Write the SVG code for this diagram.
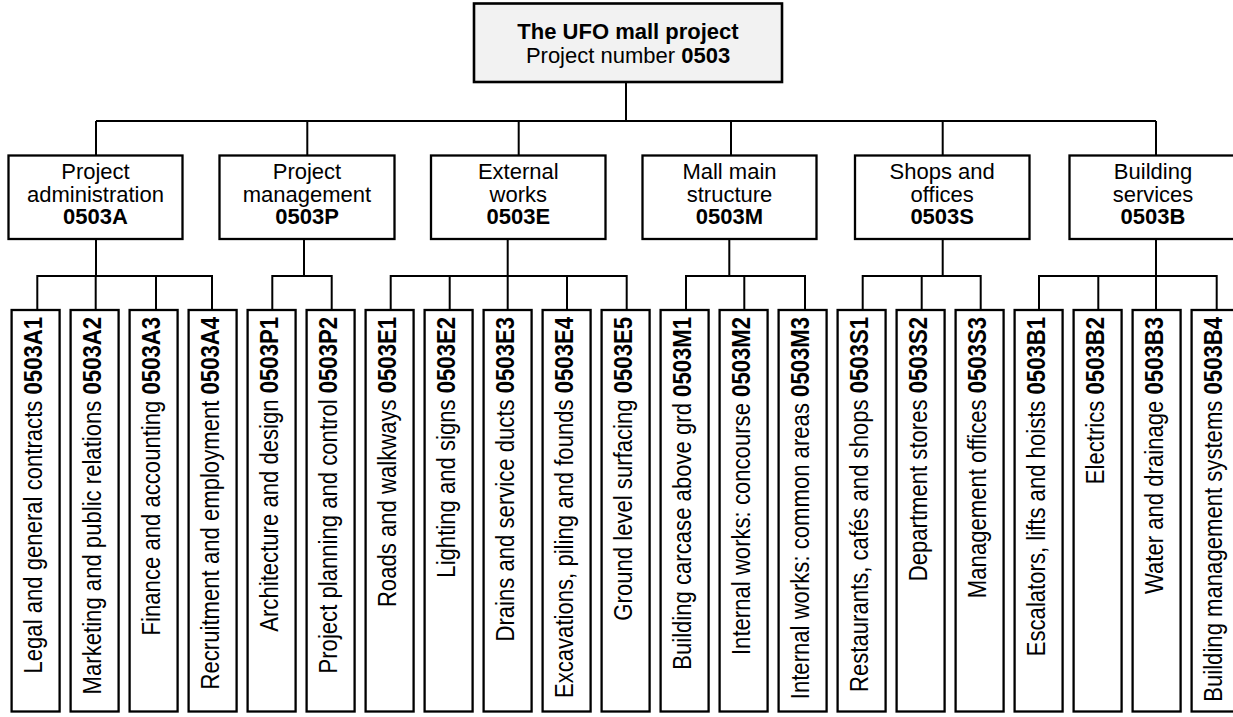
<svg xmlns="http://www.w3.org/2000/svg" width="1233" height="717" viewBox="0 0 1233 717">
  <style>
    .box { fill: #ffffff; stroke: #000000; stroke-width: 2.3; }
    .root { fill: #f2f2f2; stroke: #000000; stroke-width: 2.6; }
    .wire { fill: none; stroke: #000000; stroke-width: 2; }
    text { font-family: "Liberation Sans", Arial, sans-serif; fill: #000000; }
    .t2 { font-size: 22px; text-anchor: middle; }
    .leaf { font-size: 25px; text-anchor: end; }
    .b { font-weight: bold; }
  </style>
  <rect width="1233" height="717" fill="#ffffff"/>

  <!-- connectors -->
  <g id="connectors" class="wire">
    <path d="M626 82V121M96 121H1156"/>
    <path d="M96 121V155.5M307.3 121V155.5M518.7 121V155.5M731 121V155.5M942.7 121V155.5M1156 121V155.5"/>
    <path d="M96 239V276M304 239V276M507.7 239V276M729.3 239V276M942.7 239V276M1156 239V276"/>
    <!-- sub-buses and drops to work packages -->
    <path d="M37.3 310V276H212V310M95.7 276V310M156 276V310"/>
    <path d="M272.3 310V276H331.7V310"/>
    <path d="M390.7 310V276H626.7V310M449.7 276V310M507.7 276V310M567 276V310"/>
    <path d="M686 310V276H805V310M744.3 276V310"/>
    <path d="M862.7 310V276H980.7V310M921.7 276V310"/>
    <path d="M1039 310V276H1216.7V310M1098.3 276V310M1156 276V310"/>
  </g>

  <!-- project -->
  <g id="project">
    <rect class="root" x="474" y="3.5" width="308" height="78.5"/>
    <text x="628" y="39" class="t2 b">The UFO mall project</text>
    <text x="628" y="63" class="t2">Project number <tspan class="b">0503</tspan></text>
  </g>

  <!-- level 2 -->
  <g id="n0503A">
    <rect class="box" x="8.5" y="155.5" width="174" height="83.5"/>
    <text x="95.5" y="179.3" class="t2">Project</text>
    <text x="95.5" y="201.7" class="t2">administration</text>
    <text x="95.5" y="224" class="t2 b">0503A</text>
  </g>
  <g id="n0503P">
    <rect class="box" x="219.5" y="155.5" width="175" height="83.5"/>
    <text x="307" y="179.3" class="t2">Project</text>
    <text x="307" y="201.7" class="t2">management</text>
    <text x="307" y="224" class="t2 b">0503P</text>
  </g>
  <g id="n0503E">
    <rect class="box" x="431" y="155.5" width="174.5" height="83.5"/>
    <text x="518.3" y="179.3" class="t2">External</text>
    <text x="518.3" y="201.7" class="t2">works</text>
    <text x="518.3" y="224" class="t2 b">0503E</text>
  </g>
  <g id="n0503M">
    <rect class="box" x="642.5" y="155.5" width="174" height="83.5"/>
    <text x="729.5" y="179.3" class="t2">Mall main</text>
    <text x="729.5" y="201.7" class="t2">structure</text>
    <text x="729.5" y="224" class="t2 b">0503M</text>
  </g>
  <g id="n0503S">
    <rect class="box" x="855" y="155.5" width="174.5" height="83.5"/>
    <text x="942.2" y="179.3" class="t2">Shops and</text>
    <text x="942.2" y="201.7" class="t2">offices</text>
    <text x="942.2" y="224" class="t2 b">0503S</text>
  </g>
  <g id="n0503B">
    <rect class="box" x="1069.5" y="155.5" width="172" height="83.5"/>
    <text x="1153" y="179.3" class="t2">Building</text>
    <text x="1153" y="201.7" class="t2">services</text>
    <text x="1153" y="224" class="t2 b">0503B</text>
  </g>

  <!-- work packages: box 48 wide, pitch 59 -->
  <g id="n0503A1"><rect class="box" x="11.6" y="310" width="48" height="401.5"/>
    <text class="leaf" transform="translate(41.6 317) rotate(-90) scale(0.885 1)">Legal and general contracts <tspan class="b">0503A1</tspan></text></g>
  <g id="n0503A2"><rect class="box" x="70.6" y="310" width="48" height="401.5"/>
    <text class="leaf" transform="translate(100.6 317) rotate(-90) scale(0.885 1)">Marketing and public relations <tspan class="b">0503A2</tspan></text></g>
  <g id="n0503A3"><rect class="box" x="129.6" y="310" width="48" height="401.5"/>
    <text class="leaf" transform="translate(159.6 317) rotate(-90) scale(0.885 1)">Finance and accounting <tspan class="b">0503A3</tspan></text></g>
  <g id="n0503A4"><rect class="box" x="188.6" y="310" width="48" height="401.5"/>
    <text class="leaf" transform="translate(218.6 317) rotate(-90) scale(0.885 1)">Recruitment and employment <tspan class="b">0503A4</tspan></text></g>
  <g id="n0503P1"><rect class="box" x="247.6" y="310" width="48" height="401.5"/>
    <text class="leaf" transform="translate(277.6 317) rotate(-90) scale(0.885 1)">Architecture and design <tspan class="b">0503P1</tspan></text></g>
  <g id="n0503P2"><rect class="box" x="306.6" y="310" width="48" height="401.5"/>
    <text class="leaf" transform="translate(336.6 317) rotate(-90) scale(0.885 1)">Project planning and control <tspan class="b">0503P2</tspan></text></g>
  <g id="n0503E1"><rect class="box" x="365.6" y="310" width="48" height="401.5"/>
    <text class="leaf" transform="translate(395.6 317) rotate(-90) scale(0.885 1)">Roads and walkways <tspan class="b">0503E1</tspan></text></g>
  <g id="n0503E2"><rect class="box" x="424.6" y="310" width="48" height="401.5"/>
    <text class="leaf" transform="translate(454.6 317) rotate(-90) scale(0.885 1)">Lighting and signs <tspan class="b">0503E2</tspan></text></g>
  <g id="n0503E3"><rect class="box" x="483.6" y="310" width="48" height="401.5"/>
    <text class="leaf" transform="translate(513.6 317) rotate(-90) scale(0.885 1)">Drains and service ducts <tspan class="b">0503E3</tspan></text></g>
  <g id="n0503E4"><rect class="box" x="542.6" y="310" width="48" height="401.5"/>
    <text class="leaf" transform="translate(572.6 317) rotate(-90) scale(0.885 1)">Excavations, piling and founds <tspan class="b">0503E4</tspan></text></g>
  <g id="n0503E5"><rect class="box" x="601.6" y="310" width="48" height="401.5"/>
    <text class="leaf" transform="translate(631.6 317) rotate(-90) scale(0.885 1)">Ground level surfacing <tspan class="b">0503E5</tspan></text></g>
  <g id="n0503M1"><rect class="box" x="660.6" y="310" width="48" height="401.5"/>
    <text class="leaf" transform="translate(690.6 317) rotate(-90) scale(0.885 1)">Building carcase above grd <tspan class="b">0503M1</tspan></text></g>
  <g id="n0503M2"><rect class="box" x="719.6" y="310" width="48" height="401.5"/>
    <text class="leaf" transform="translate(749.6 317) rotate(-90) scale(0.885 1)">Internal works: concourse <tspan class="b">0503M2</tspan></text></g>
  <g id="n0503M3"><rect class="box" x="778.6" y="310" width="48" height="401.5"/>
    <text class="leaf" transform="translate(808.6 317) rotate(-90) scale(0.885 1)">Internal works: common areas <tspan class="b">0503M3</tspan></text></g>
  <g id="n0503S1"><rect class="box" x="837.6" y="310" width="48" height="401.5"/>
    <text class="leaf" transform="translate(867.6 317) rotate(-90) scale(0.885 1)">Restaurants, cafés and shops <tspan class="b">0503S1</tspan></text></g>
  <g id="n0503S2"><rect class="box" x="896.6" y="310" width="48" height="401.5"/>
    <text class="leaf" transform="translate(926.6 317) rotate(-90) scale(0.885 1)">Department stores <tspan class="b">0503S2</tspan></text></g>
  <g id="n0503S3"><rect class="box" x="955.6" y="310" width="48" height="401.5"/>
    <text class="leaf" transform="translate(985.6 317) rotate(-90) scale(0.885 1)">Management offices <tspan class="b">0503S3</tspan></text></g>
  <g id="n0503B1"><rect class="box" x="1014.6" y="310" width="48" height="401.5"/>
    <text class="leaf" transform="translate(1044.6 317) rotate(-90) scale(0.885 1)">Escalators, lifts and hoists <tspan class="b">0503B1</tspan></text></g>
  <g id="n0503B2"><rect class="box" x="1073.6" y="310" width="48" height="401.5"/>
    <text class="leaf" transform="translate(1103.6 317) rotate(-90) scale(0.885 1)">Electrics <tspan class="b">0503B2</tspan></text></g>
  <g id="n0503B3"><rect class="box" x="1132.6" y="310" width="48" height="401.5"/>
    <text class="leaf" transform="translate(1162.6 317) rotate(-90) scale(0.885 1)">Water and drainage <tspan class="b">0503B3</tspan></text></g>
  <g id="n0503B4"><rect class="box" x="1191.6" y="310" width="48" height="401.5"/>
    <text class="leaf" transform="translate(1221.6 317) rotate(-90) scale(0.885 1)">Building management systems <tspan class="b">0503B4</tspan></text></g>
</svg>
